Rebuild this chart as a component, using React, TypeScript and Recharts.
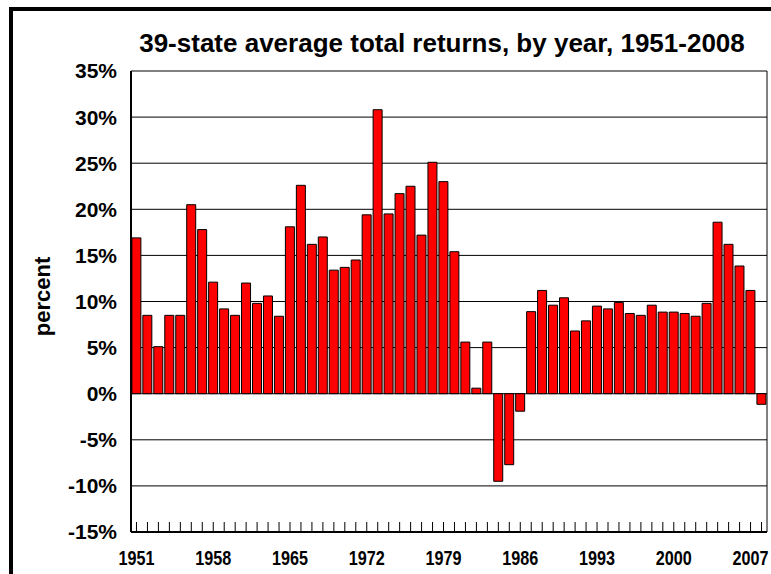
import { BarChart, Bar, XAxis, YAxis, CartesianGrid } from 'recharts'

const years = [
  1951, 1952, 1953, 1954, 1955, 1956, 1957, 1958, 1959, 1960,
  1961, 1962, 1963, 1964, 1965, 1966, 1967, 1968, 1969, 1970,
  1971, 1972, 1973, 1974, 1975, 1976, 1977, 1978, 1979, 1980,
  1981, 1982, 1983, 1984, 1985, 1986, 1987, 1988, 1989, 1990,
  1991, 1992, 1993, 1994, 1995, 1996, 1997, 1998, 1999, 2000,
  2001, 2002, 2003, 2004, 2005, 2006, 2007, 2008,
]

// average total return, percent
const returns = [
  16.9, 8.5, 5.1, 8.5, 8.5, 20.5, 17.8, 12.1, 9.2, 8.5,
  12.0, 9.8, 10.6, 8.4, 18.1, 22.6, 16.2, 17.0, 13.4, 13.7,
  14.5, 19.4, 30.8, 19.5, 21.7, 22.5, 17.2, 25.1, 23.0, 15.4,
  5.6, 0.6, 5.6, -9.5, -7.7, -1.9, 8.9, 11.2, 9.6, 10.4,
  6.8, 7.9, 9.5, 9.2, 9.9, 8.7, 8.5, 9.6, 8.85, 8.85,
  8.7, 8.4, 9.8, 18.6, 16.2, 13.85, 11.2, -1.15,
]

const labelYears = [1951, 1958, 1965, 1972, 1979, 1986, 1993, 2000, 2007]
const yTicks = [-15, -10, -5, 0, 5, 10, 15, 20, 25, 30, 35]

const FONT = '"Liberation Sans", Arial, sans-serif'

const data = years.map((y, i) => ({ year: y, value: returns[i] }))

function YearTick(props: any) {
  const { x, y, payload } = props
  if (!labelYears.includes(payload.value)) return null
  return (
    <text x={x} y={y} dy="0.7em" textAnchor="middle" fontFamily={FONT} fontWeight="bold" fontSize={21}
      fill="#000" textLength={36} lengthAdjust="spacingAndGlyphs">
      {payload.value}
    </text>
  )
}

export default function App() {
  return (
    <div style={{ position: 'fixed', left: 0, top: 0, width: 771, height: 574, overflow: 'hidden', background: '#fff' }}>
      <div style={{ position: 'absolute', left: 9, top: 7, width: 820, height: 620, border: '4px solid #000', boxSizing: 'border-box' }} />
      <div style={{
        position: 'absolute', left: 42, top: 28, width: 800, textAlign: 'center', lineHeight: '30px',
        fontFamily: FONT, fontWeight: 'bold', fontSize: 26, color: '#000',
      }}>
        39-state average total returns, by year, 1951-2008
      </div>
      <div style={{ position: 'absolute', left: 0, top: 0 }}>
        <BarChart width={771} height={574} data={data} margin={{ top: 71, right: 4, bottom: 12, left: 71 }} barCategoryGap="8%">
          <CartesianGrid stroke="#000" strokeWidth={1}
            verticalCoordinatesGenerator={({ offset }: any) => [offset.left, offset.left + offset.width]} />
          <XAxis dataKey="year" interval={0} height={30} tickSize={-10} tickMargin={28}
            tickLine={{ stroke: '#000' }} axisLine={{ stroke: '#000', strokeWidth: 2 }} tick={YearTick} />
          <YAxis domain={[-15, 35]} ticks={yTicks} interval={0} width={60} tickSize={0} tickMargin={14}
            tickFormatter={(v: number) => `${v}%`} axisLine={{ stroke: '#000', strokeWidth: 2 }} tickLine={false}
            tick={{ fill: '#000', fontFamily: FONT, fontWeight: 'bold', fontSize: 21 }}
            label={{
              content: ({ viewBox }: any) => (
                <text x={viewBox.x - 29} y={viewBox.y + viewBox.height / 2 - 5} transform={`rotate(-90 ${viewBox.x - 29} ${viewBox.y + viewBox.height / 2 - 5})`}
                  textAnchor="middle" dominantBaseline="central" fontFamily={FONT} fontWeight="bold" fontSize={22} fill="#000">
                  percent
                </text>
              ),
            }} />
          <Bar dataKey="value" fill="#ff0000" stroke="#000" strokeWidth={1} isAnimationActive={false} />
        </BarChart>
      </div>
    </div>
  )
}
